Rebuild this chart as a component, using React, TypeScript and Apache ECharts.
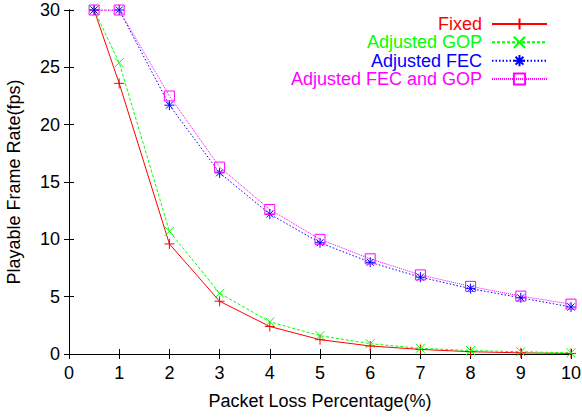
import React, { useEffect, useRef } from "react";
import * as echarts from "echarts";

const lossPct = [0.5, 1, 2, 3, 4, 5, 6, 7, 8, 9, 10];
const fixed = [30, 23.6, 9.6, 4.6, 2.4, 1.25, 0.7, 0.4, 0.2, 0.1, 0.05];
const adjGop = [30, 25.4, 10.7, 5.3, 2.8, 1.6, 0.9, 0.5, 0.3, 0.2, 0.1];
const adjFec = [30, 30, 21.7, 15.8, 12.2, 9.7, 8.0, 6.7, 5.7, 4.9, 4.1];
const adjFecGop = [30, 30, 22.5, 16.3, 12.6, 10.0, 8.3, 6.9, 5.9, 5.05, 4.35];
const seriesNames = ["Fixed", "Adjusted GOP", "Adjusted FEC", "Adjusted FEC and GOP"];
const xTicks = [0, 10, 1];
const yTicks = [0, 30, 5];

const FONT = "Liberation Sans, Arial, Helvetica, sans-serif";
const FS = 18;

export default function App() {
  const ref = useRef<HTMLDivElement>(null);
  useEffect(() => {
    document.body.style.margin = "0";
    const chart = echarts.init(ref.current!, null, { renderer: "svg" });
    const pair = (ys: number[]) => lossPct.map((x, i) => [x, ys[i]]);
    const colors = ["#ff0000", "#00ff00", "#0000ff", "#ff00ff"];
    const symbols = [
      "path://M5,0 L5,10 M0,5 L10,5",
      "path://M0,0 L10,10 M10,0 L0,10",
      "path://M5,0 L5,10 M0,5 L10,5 M1.5,1.5 L8.5,8.5 M8.5,1.5 L1.5,8.5",
      "path://M0,0 L10,0 L10,10 L0,10 Z",
    ];
    const sizes = [10, 9, 10, 10];
    const dashes: any[] = ["solid", [3, 2], [1.5, 2], [1, 1]];
    const datas = [fixed, adjGop, adjFec, adjFecGop];
    const legendCenters = [24, 42.3, 60.7, 79];

    const series = datas.map((d, i) => ({
      name: seriesNames[i],
      type: "line",
      data: pair(d),
      symbol: symbols[i],
      symbolSize: sizes[i],
      showSymbol: true,
      showAllSymbol: true,
      lineStyle: { color: colors[i], width: 1, type: dashes[i] },
      itemStyle: { color: "none", borderColor: colors[i], borderWidth: 1 },
      emphasis: { disabled: true },
      xAxisIndex: 0,
      yAxisIndex: 0,
    }));

    const legends = seriesNames.map((n, i) => ({
      data: [n],
      orient: "horizontal",
      right: 34,
      top: legendCenters[i] - 9,
      padding: 0,
      align: "right",
      itemWidth: 55,
      itemHeight: 14,
      selectedMode: false,
      textStyle: { color: colors[i], fontSize: FS, fontFamily: FONT, padding: [0, 5, 0, 0] },
    }));

    const axisCommon = {
      type: "value",
      axisLine: { show: true, lineStyle: { color: "#000", width: 1 } },
      axisTick: { show: true, inside: true, length: 5, lineStyle: { color: "#000" } },
      splitLine: { show: false },
    };

    chart.setOption({
      animation: false,
      backgroundColor: "#fff",
      grid: { left: 69, right: 11, top: 10, bottom: 63, containLabel: false, outerBoundsMode: "none" },
      legend: legends,
      xAxis: [
        {
          ...axisCommon,
          position: "bottom",
          min: xTicks[0],
          max: xTicks[1],
          interval: xTicks[2],
          name: "Packet Loss Percentage(%)",
          nameLocation: "middle",
          nameGap: 38,
          nameTextStyle: { color: "#000", fontSize: FS, fontFamily: FONT },
          axisLabel: { color: "#000", fontSize: FS, fontFamily: FONT, margin: 10 },
        },
        {
          ...axisCommon,
          position: "top",
          min: xTicks[0],
          max: xTicks[1],
          interval: xTicks[2],
          axisLabel: { show: false },
        },
      ],
      yAxis: [
        {
          ...axisCommon,
          position: "left",
          min: yTicks[0],
          max: yTicks[1],
          interval: yTicks[2],
          name: "Playable Frame Rate(fps)",
          nameLocation: "middle",
          nameGap: 46,
          nameTextStyle: { color: "#000", fontSize: FS, fontFamily: FONT },
          axisLabel: { color: "#000", fontSize: FS, fontFamily: FONT, margin: 9 },
        },
        {
          ...axisCommon,
          position: "right",
          min: yTicks[0],
          max: yTicks[1],
          interval: yTicks[2],
          axisLabel: { show: false },
        },
      ],
      series,
    });
    return () => chart.dispose();
  }, []);
  return <div ref={ref} style={{ width: 582, height: 417 }} />;
}
